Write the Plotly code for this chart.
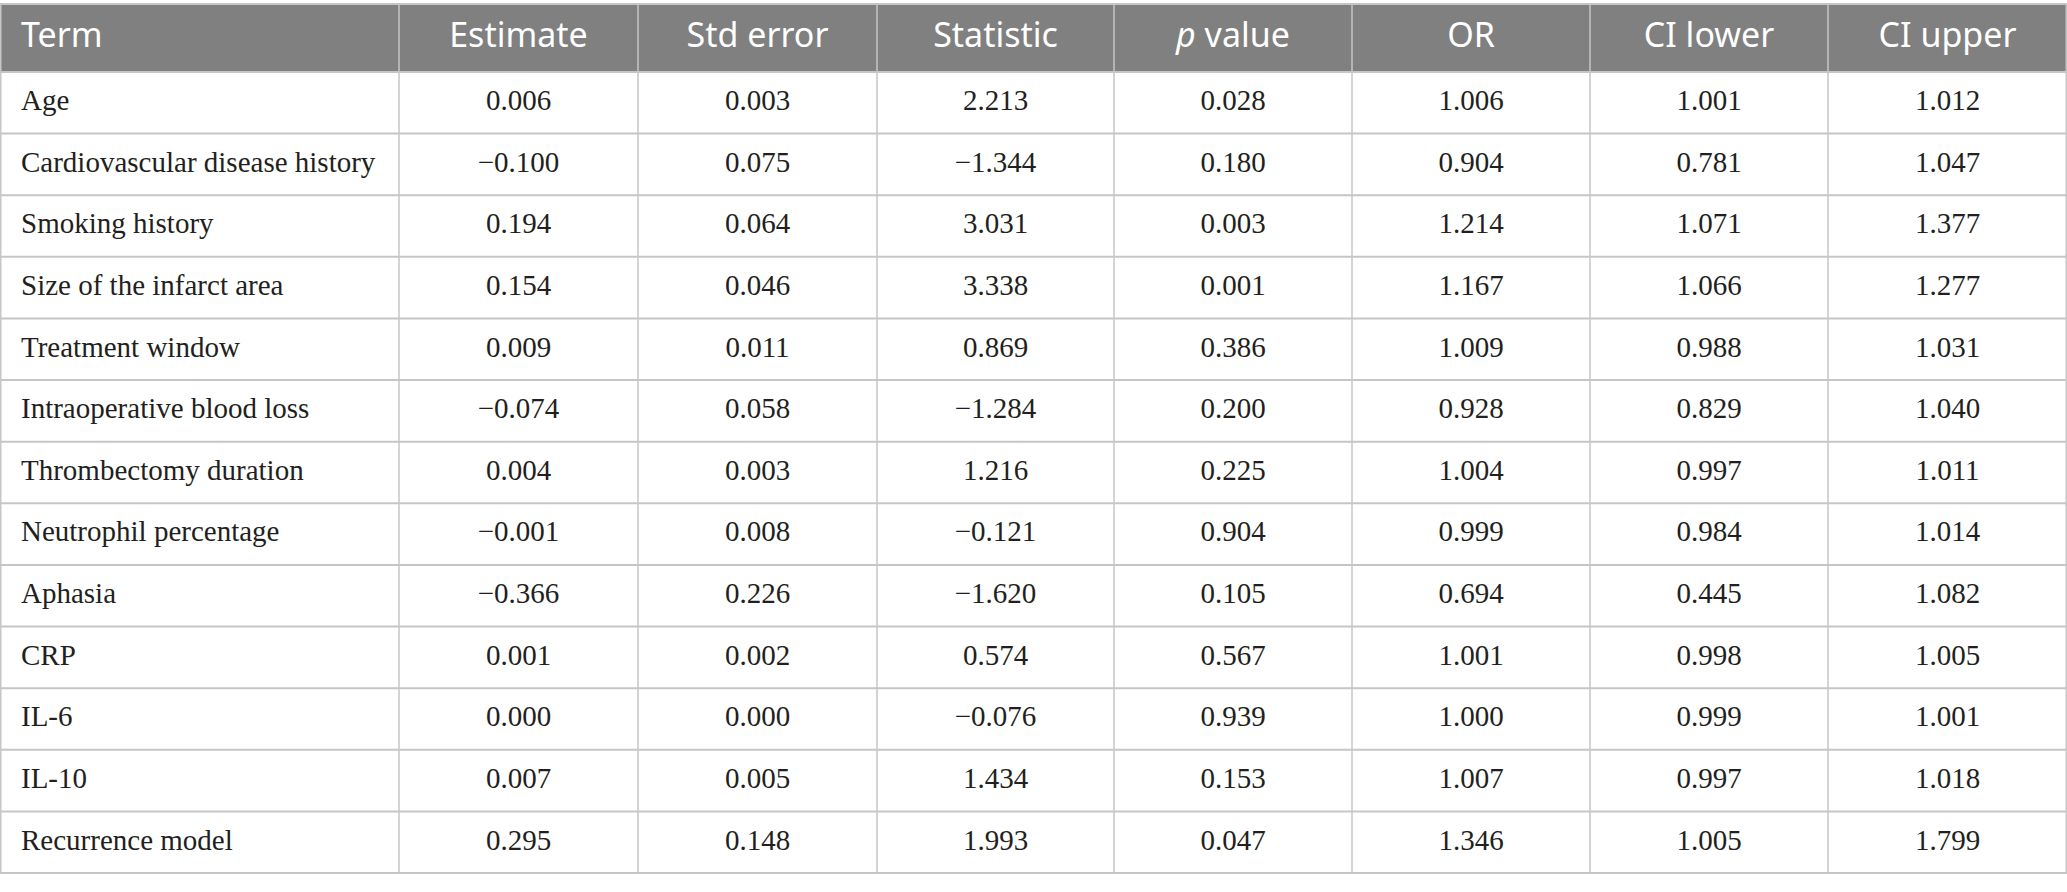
import numpy as np
import plotly.graph_objects as go

# 表格数据
terms = ["Age", "Cardiovascular disease history", "Smoking history",
         "Size of the infarct area", "Treatment window",
         "Intraoperative blood loss", "Thrombectomy duration",
         "Neutrophil percentage", "Aphasia", "CRP", "IL-6", "IL-10",
         "Recurrence model"]
estimate = ["0.006", "−0.100", "0.194", "0.154", "0.009", "−0.074", "0.004",
            "−0.001", "−0.366", "0.001", "0.000", "0.007", "0.295"]
std_error = ["0.003", "0.075", "0.064", "0.046", "0.011", "0.058", "0.003",
             "0.008", "0.226", "0.002", "0.000", "0.005", "0.148"]
statistic = ["2.213", "−1.344", "3.031", "3.338", "0.869", "−1.284", "1.216",
             "−0.121", "−1.620", "0.574", "−0.076", "1.434", "1.993"]
p_value = ["0.028", "0.180", "0.003", "0.001", "0.386", "0.200", "0.225",
           "0.904", "0.105", "0.567", "0.939", "0.153", "0.047"]
odds_ratio = ["1.006", "0.904", "1.214", "1.167", "1.009", "0.928", "1.004",
              "0.999", "0.694", "1.001", "1.000", "1.007", "1.346"]
ci_lower = ["1.001", "0.781", "1.071", "1.066", "0.988", "0.829", "0.997",
            "0.984", "0.445", "0.998", "0.999", "0.997", "1.005"]
ci_upper = ["1.012", "1.047", "1.377", "1.277", "1.031", "1.040", "1.011",
            "1.014", "1.082", "1.005", "1.001", "1.018", "1.799"]

headers = ["Term", "Estimate", "Std error", "Statistic", "<i>p</i> value",
           "OR", "CI lower", "CI upper"]

columns = [terms, estimate, std_error, statistic, p_value,
           odds_ratio, ci_lower, ci_upper]

# 版式（像素）
W, H = 2067, 892
col_widths = [399, 239, 239, 237, 238, 238, 238, 239]
header_top, header_h = 4, 68
row_h = 61.62
pad_left = 21

header_gray = "#808080"
grid_color = "#c6c6c6"
text_color = "#231f20"

col_edges = np.concatenate([[0], np.cumsum(col_widths)])
col_centers = (col_edges[:-1] + col_edges[1:]) / 2
header_bottom = header_top + header_h
n_rows = len(terms)
row_edges = header_bottom + row_h * np.arange(n_rows + 1)
row_centers = (row_edges[:-1] + row_edges[1:]) / 2
table_bottom = row_edges[-1]

fig = go.Figure()

# 表头背景
fig.add_shape(type="rect", x0=0, x1=W, y0=header_top, y1=header_bottom,
              fillcolor=header_gray, line_width=0, layer="below")

# 横线
for y in np.concatenate([[header_top], row_edges]):
    fig.add_shape(type="line", x0=0, x1=W, y0=y, y1=y,
                  line=dict(color=grid_color, width=2))

# 竖线
for x in col_edges:
    x = min(max(x, 0.75), W - 0.75)
    fig.add_shape(type="line", x0=x, x1=x, y0=header_top, y1=table_bottom,
                  line=dict(color=grid_color, width=1.5))

# 表头文字
hx = [pad_left] + list(col_centers[1:])
fig.add_trace(go.Scatter(
    x=hx, y=[(header_top + header_bottom) / 2] * len(headers),
    text=headers, mode="text",
    textposition=["middle right"] + ["middle center"] * 7,
    textfont=dict(family="Noto Sans", size=34, color="white"),
    hoverinfo="skip", showlegend=False,
))

# 单元格文字
for j, vals in enumerate(columns):
    x = pad_left if j == 0 else col_centers[j]
    fig.add_trace(go.Scatter(
        x=[x] * n_rows, y=row_centers, text=vals, mode="text",
        textposition="middle right" if j == 0 else "middle center",
        textfont=dict(family="Liberation Serif", size=29, color=text_color),
        hoverinfo="skip", showlegend=False,
    ))

fig.update_layout(
    width=W, height=H,
    margin=dict(l=0, r=0, t=0, b=0),
    paper_bgcolor="white", plot_bgcolor="white",
    xaxis=dict(range=[0, W], visible=False, fixedrange=True),
    yaxis=dict(range=[H, 0], visible=False, fixedrange=True),
)

fig.write_html("out.html", config={"displayModeBar": False},
               post_script="document.body.style.margin='0';")
